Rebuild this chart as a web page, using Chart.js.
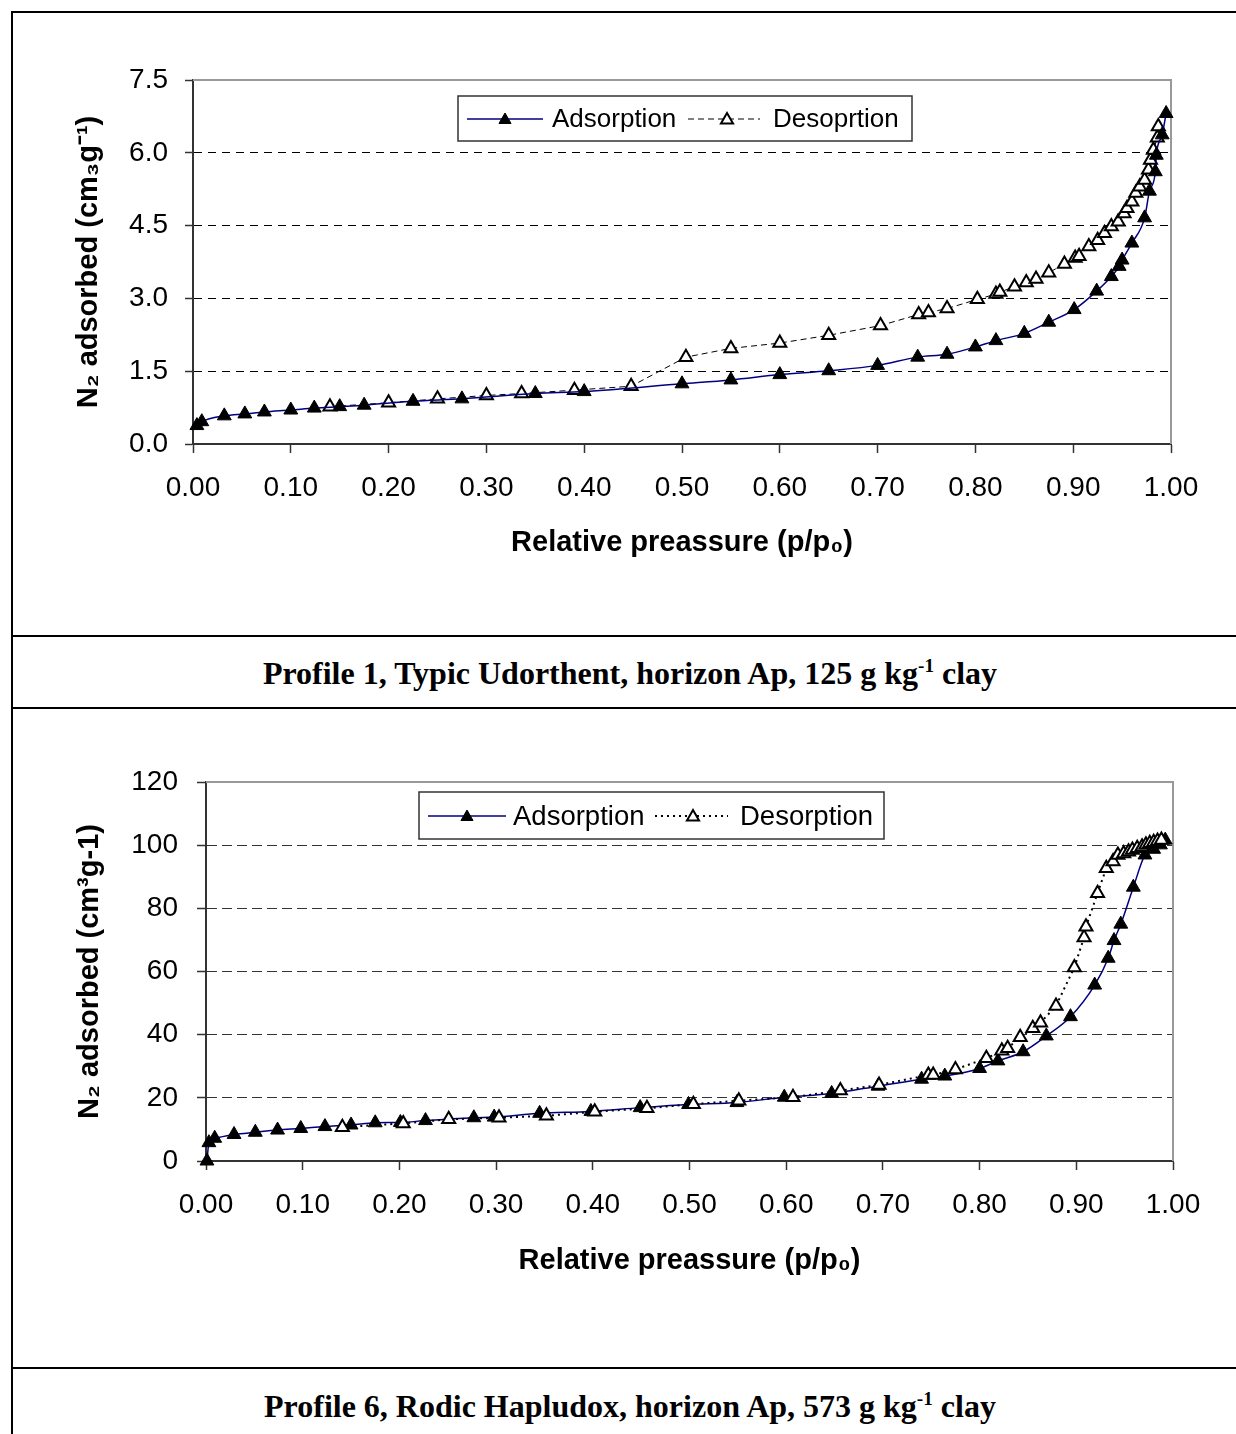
<!DOCTYPE html>
<html lang="en">
<head>
<meta charset="UTF-8">
<title>N2 adsorption isotherms</title>
<script src="https://cdn.jsdelivr.net/npm/chart.js"></script>
<style>
  body { margin: 0; background: #fff; width: 1236px; height: 1434px; overflow: hidden; position: relative; }
  .frame { position: absolute; left: 11px; top: 11px; width: 1300px; height: 1500px; border-left: 2px solid #000; border-top: 2px solid #000; }
  .rule { position: absolute; left: 11px; width: 1300px; height: 0; border-top: 2px solid #000; }
  canvas { position: absolute; left: 13px; }
  .caption { position: absolute; left: 13px; width: 1234px; text-align: center; line-height: 36px;
             font: bold 32px "Liberation Serif", "Times New Roman", serif; }
  .caption sup { font-size: 0.6em; line-height: 0; }
</style>
</head>
<body>
<div class="frame"></div>
<div class="rule" style="top:635px"></div>
<div class="rule" style="top:707px"></div>
<div class="rule" style="top:1367px"></div>

<canvas id="chart1" width="1223" height="622" style="top:13px"></canvas>
<div class="caption" style="top:655px">Profile 1, Typic Udorthent, horizon Ap, 125 g kg<sup>-1</sup> clay</div>

<canvas id="chart2" width="1223" height="658" style="top:709px"></canvas>
<div class="caption" style="top:1388px">Profile 6, Rodic Hapludox, horizon Ap, 573 g kg<sup>-1</sup> clay</div>

<script>
// Profile 1 - adsorption branch (p/p0, cm3/g)
const ads1X = [0.004, 0.009, 0.032, 0.053, 0.073, 0.100, 0.124, 0.150, 0.175, 0.225, 0.275, 0.350, 0.400,
               0.500, 0.550, 0.600, 0.650, 0.700, 0.741, 0.771, 0.800, 0.821, 0.850, 0.875, 0.901, 0.924,
               0.939, 0.947, 0.950, 0.960, 0.973, 0.978, 0.984, 0.985, 0.991, 0.995];
const ads1Y = [0.38, 0.46, 0.58, 0.62, 0.66, 0.70, 0.74, 0.77, 0.80, 0.88, 0.93, 1.04, 1.08,
               1.24, 1.32, 1.43, 1.51, 1.62, 1.79, 1.85, 2.00, 2.13, 2.28, 2.51, 2.77, 3.15,
               3.45, 3.66, 3.79, 4.14, 4.66, 5.21, 5.61, 5.95, 6.37, 6.81];
// Profile 1 - desorption branch
const des1X = [0.140, 0.200, 0.250, 0.300, 0.336, 0.390, 0.448, 0.504, 0.550, 0.600, 0.650, 0.703, 0.742,
               0.752, 0.771, 0.802, 0.821, 0.825, 0.840, 0.852, 0.862, 0.875, 0.891, 0.902, 0.906, 0.916,
               0.925, 0.932, 0.939, 0.946, 0.952, 0.955, 0.960, 0.964, 0.968, 0.973, 0.977, 0.979, 0.982,
               0.986, 0.987];
const des1Y = [0.77, 0.85, 0.93, 1.00, 1.04, 1.11, 1.19, 1.79, 1.97, 2.08, 2.24, 2.44, 2.67,
               2.71, 2.79, 2.98, 3.09, 3.13, 3.24, 3.33, 3.40, 3.53, 3.71, 3.83, 3.87, 4.07,
               4.20, 4.34, 4.48, 4.58, 4.75, 4.86, 4.99, 5.17, 5.30, 5.44, 5.65, 5.85, 6.06,
               6.31, 6.54];

// Profile 6 - adsorption branch
const ads2X = [0.001, 0.003, 0.009, 0.029, 0.051, 0.074, 0.098, 0.123, 0.150, 0.175, 0.201, 0.227, 0.277,
               0.298, 0.345, 0.398, 0.449, 0.499, 0.549, 0.598, 0.647, 0.695, 0.740, 0.764, 0.800, 0.819,
               0.845, 0.869, 0.894, 0.919, 0.933, 0.939, 0.946, 0.959, 0.971, 0.980, 0.987, 0.992];
const ads2Y = [0.0, 5.8, 7.2, 8.4, 9.1, 9.8, 10.3, 10.9, 11.4, 12.1, 12.2, 12.8, 13.7,
               13.9, 15.1, 15.7, 16.9, 17.9, 18.5, 20.2, 21.4, 23.7, 25.9, 26.9, 29.3, 31.7,
               34.6, 39.6, 45.7, 55.7, 64.2, 69.8, 75.0, 86.7, 96.9, 98.7, 100.1, 101.6];
// Profile 6 - desorption branch
const des2X = [0.141, 0.204, 0.251, 0.303, 0.352, 0.402, 0.456, 0.504, 0.551, 0.607, 0.656, 0.696, 0.747,
               0.752, 0.775, 0.807, 0.823, 0.829, 0.842, 0.855, 0.863, 0.879, 0.898, 0.908, 0.910, 0.922,
               0.931, 0.938, 0.943, 0.949, 0.954, 0.958, 0.963, 0.968, 0.972, 0.976, 0.980, 0.984, 0.988];
const des2Y = [10.7, 11.9, 13.2, 13.7, 14.3, 15.6, 16.7, 18.0, 19.1, 20.2, 22.3, 24.1, 27.2,
               27.2, 29.0, 32.5, 34.9, 35.7, 39.2, 42.0, 43.8, 49.1, 61.3, 70.8, 74.2, 84.8,
               92.7, 94.8, 96.9, 97.4, 97.9, 98.5, 99.0, 99.5, 100.1, 100.6, 100.9, 101.3, 101.6];

const seriesNames1 = ['Adsorption', 'Desoprtion'];
const seriesNames2 = ['Adsorption', 'Desorption'];
const xTitle = 'Relative preassure (p/p₀)';
const yTitle1 = 'N₂ adsorbed (cm₃g⁻¹)';
const yTitle2 = 'N₂ adsorbed (cm³g-1)';

const pts = (xs, ys) => xs.map((x, i) => ({ x: x, y: ys[i] }));
const SANS = '"Liberation Sans", Arial, sans-serif';

function triangle(ctx, x, y, r, fill, stroke, lw) {
    ctx.beginPath();
    ctx.moveTo(x, y - r);
    ctx.lineTo(x + 0.866 * r, y + 0.5 * r);
    ctx.lineTo(x - 0.866 * r, y + 0.5 * r);
    ctx.closePath();
    ctx.fillStyle = fill;
    ctx.fill();
    ctx.lineWidth = lw;
    ctx.strokeStyle = stroke;
    ctx.stroke();
}

// grey frame on top and right side of the plot area (Excel style)
const plotFrame = {
    id: 'plotFrame',
    beforeDatasetsDraw(chart) {
        const a = chart.chartArea, ctx = chart.ctx;
        ctx.save();
        ctx.strokeStyle = '#999';
        ctx.lineWidth = 2;
        ctx.beginPath();
        ctx.moveTo(a.left, a.top);
        ctx.lineTo(a.right, a.top);
        ctx.lineTo(a.right, a.bottom);
        ctx.stroke();
        ctx.restore();
    }
};

// legend box: line sample + marker + label
const isoLegend = {
    id: 'isoLegend',
    afterDraw(chart, args, opts) {
        const ctx = chart.ctx;
        const [bx, by, bw, bh] = opts.box;
        ctx.save();
        ctx.fillStyle = '#fff';
        ctx.fillRect(bx, by, bw, bh);
        ctx.strokeStyle = '#333';
        ctx.lineWidth = 1.5;
        ctx.strokeRect(bx, by, bw, bh);
        chart.data.datasets.forEach((ds, i) => {
            const it = opts.items[i];
            ctx.strokeStyle = ds.borderColor;
            ctx.lineWidth = ds.borderWidth;
            ctx.setLineDash(ds.borderDash || []);
            ctx.beginPath();
            ctx.moveTo(it.x1, opts.y);
            ctx.lineTo(it.x2, opts.y);
            ctx.stroke();
            ctx.setLineDash([]);
            triangle(ctx, it.mx, opts.y + 1, opts.r, ds.pointBackgroundColor, ds.pointBorderColor, ds.pointBorderWidth);
            ctx.fillStyle = '#000';
            ctx.font = opts.fontSize + 'px ' + SANS;
            ctx.textBaseline = 'middle';
            ctx.textAlign = 'left';
            ctx.fillText(ds.label, it.tx, opts.y + 1);
        });
        ctx.restore();
    }
};

function makeChart(id, cfg) {
    const tickFont = { family: SANS, size: 28 };
    const titleFont = { family: SANS, size: 29, weight: 'bold' };
    return new Chart(document.getElementById(id), {
        type: 'scatter',
        data: { datasets: cfg.datasets },
        options: {
            responsive: false,
            animation: false,
            devicePixelRatio: 1,
            layout: { padding: cfg.padding },
            plugins: {
                legend: { display: false },
                tooltip: { enabled: false },
                isoLegend: cfg.legend
            },
            scales: {
                x: {
                    type: 'linear', min: 0, max: 1,
                    afterFit: s => { s.height = cfg.xHeight; },
                    ticks: { stepSize: 0.1, padding: 18, color: '#000', font: tickFont,
                             maxRotation: 0, callback: v => v.toFixed(2) },
                    grid: { drawOnChartArea: false, tickLength: 9, tickColor: '#333', tickWidth: 1.5 },
                    border: { color: '#333', width: 2 },
                    title: { display: true, text: xTitle, color: '#000', font: titleFont, padding: 0 }
                },
                y: {
                    type: 'linear', min: 0, max: cfg.yMax,
                    afterFit: s => { s.width = cfg.yWidth; },
                    ticks: { stepSize: cfg.yStep, padding: cfg.yPad, color: '#000', font: tickFont,
                             callback: v => v.toFixed(cfg.yDec) },
                    grid: {
                        tickLength: cfg.yTick, tickColor: '#333', tickWidth: 1.5, lineWidth: 1,
                        color: c => (c.tick && c.tick.value > 0 && c.tick.value < cfg.yMax) ? cfg.gridColor : 'rgba(0,0,0,0)'
                    },
                    border: { color: '#333', width: 2, dash: cfg.gridDash },
                    title: { display: true, text: cfg.yTitle, color: '#000', font: titleFont, padding: 0 }
                }
            }
        },
        plugins: [plotFrame, isoLegend]
    });
}

const adsStyle = {
    showLine: true, clip: false,
    borderColor: '#000080', borderWidth: 1.5, cubicInterpolationMode: 'monotone',
    pointStyle: 'triangle', pointRadius: 8, pointBackgroundColor: '#000',
    pointBorderColor: '#000', pointBorderWidth: 1
};
const desStyle = {
    showLine: true, clip: false, tension: 0,
    borderColor: '#000', pointStyle: 'triangle', pointRadius: 7.5,
    pointBackgroundColor: '#fff', pointBorderColor: '#000', pointBorderWidth: 2
};

makeChart('chart1', {
    datasets: [
        Object.assign({ label: seriesNames1[0], data: pts(ads1X, ads1Y), order: 0 }, adsStyle),
        Object.assign({ label: seriesNames1[1], data: pts(des1X, des1Y), order: 1,
                        borderWidth: 1, borderDash: [6, 4] }, desStyle)
    ],
    padding: { top: 67, right: 65, bottom: 75, left: 59 },
    xHeight: 116, yWidth: 121, yMax: 7.5, yStep: 1.5, yDec: 1, yPad: 17, yTick: 8,
    gridColor: '#000', gridDash: [8, 6], yTitle: yTitle1,
    legend: {
        box: [445, 83, 454, 45], y: 106, r: 7, fontSize: 26,
        items: [{ x1: 454, x2: 530, mx: 492, tx: 539 }, { x1: 675, x2: 747, mx: 714, tx: 760 }]
    }
});

makeChart('chart2', {
    datasets: [
        Object.assign({ label: seriesNames2[0], data: pts(ads2X, ads2Y), order: 1 }, adsStyle),
        Object.assign({ label: seriesNames2[1], data: pts(des2X, des2Y), order: 0,
                        borderWidth: 2, borderDash: [2, 4] }, desStyle)
    ],
    padding: { top: 73, right: 63, bottom: 89, left: 60 },
    xHeight: 117, yWidth: 133, yMax: 120, yStep: 20, yDec: 0, yPad: 19, yTick: 9,
    gridColor: '#333', gridDash: [10, 5], yTitle: yTitle2,
    legend: {
        box: [406, 83, 465, 47], y: 107, r: 7, fontSize: 27.5,
        items: [{ x1: 415, x2: 493, mx: 454, tx: 500 }, { x1: 642, x2: 715, mx: 680, tx: 727 }]
    }
});
</script>
</body>
</html>
